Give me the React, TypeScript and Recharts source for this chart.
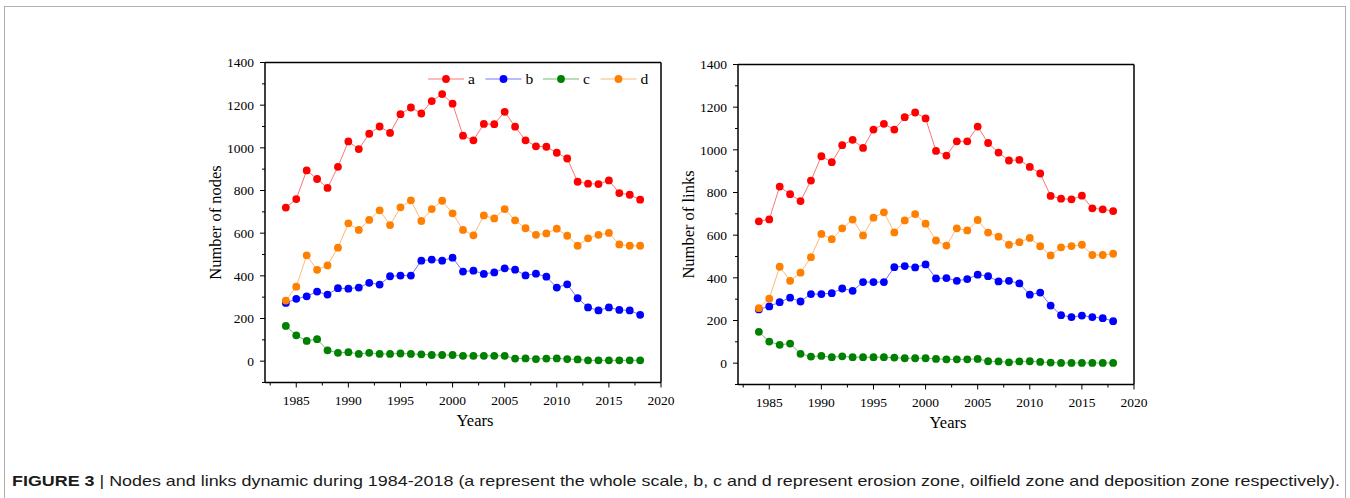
import React from 'react';
import { LineChart, Line, XAxis, YAxis, ReferenceLine, Legend, Label } from 'recharts';

// ---- data ----
const years = [1984, 1985, 1986, 1987, 1988, 1989, 1990, 1991, 1992, 1993, 1994, 1995, 1996, 1997, 1998, 1999, 2000, 2001, 2002, 2003, 2004, 2005, 2006, 2007, 2008, 2009, 2010, 2011, 2012, 2013, 2014, 2015, 2016, 2017, 2018];

const nodesA = [720, 760, 894, 854, 812, 911, 1030, 994, 1066, 1100, 1070, 1158, 1189, 1161, 1219, 1252, 1207, 1057, 1035, 1112, 1111, 1169, 1099, 1035, 1007, 1005, 977, 950, 841, 832, 830, 847, 788, 780, 757];
const nodesB = [273, 292, 304, 326, 312, 342, 340, 345, 367, 359, 398, 401, 401, 471, 476, 471, 485, 420, 424, 409, 416, 435, 429, 402, 410, 396, 345, 360, 295, 252, 238, 252, 240, 238, 217];
const nodesC = [165, 121, 95, 103, 51, 39, 42, 34, 39, 34, 34, 36, 34, 32, 29, 29, 29, 25, 25, 25, 25, 25, 12, 13, 10, 12, 13, 10, 8, 4, 4, 4, 4, 4, 4];
const nodesD = [284, 349, 496, 428, 449, 532, 646, 615, 662, 707, 638, 721, 754, 657, 713, 752, 693, 615, 590, 683, 669, 713, 660, 623, 592, 599, 621, 588, 541, 576, 592, 601, 547, 541, 541];

const linksA = [665, 674, 828, 792, 760, 856, 970, 942, 1022, 1047, 1009, 1095, 1122, 1095, 1153, 1175, 1147, 995, 973, 1040, 1040, 1109, 1032, 987, 950, 953, 920, 889, 784, 771, 768, 785, 726, 721, 713];
const linksB = [252, 266, 286, 307, 289, 324, 324, 328, 350, 339, 380, 380, 380, 450, 455, 449, 463, 397, 399, 386, 394, 415, 408, 383, 386, 374, 321, 331, 270, 225, 216, 223, 216, 211, 197];
const linksC = [147, 101, 86, 92, 44, 31, 34, 28, 32, 28, 28, 28, 28, 26, 23, 23, 23, 20, 18, 18, 18, 20, 9, 8, 4, 8, 9, 6, 3, 1, 1, 1, 1, 1, 1];
const linksD = [258, 302, 452, 386, 424, 497, 606, 581, 632, 673, 599, 682, 707, 613, 669, 699, 654, 575, 551, 632, 622, 671, 612, 593, 555, 567, 587, 548, 505, 543, 549, 555, 507, 507, 513];

const seriesNames = ['a', 'b', 'c', 'd'];
const seriesColors = ['#ff0000', '#0000ff', '#008000', '#ff8000'];

const xTicks = [1982.5, 1985, 1987.5, 1990, 1992.5, 1995, 1997.5, 2000, 2002.5, 2005, 2007.5, 2010, 2012.5, 2015, 2017.5, 2020];
const yTicks = [-100, 0, 100, 200, 300, 400, 500, 600, 700, 800, 900, 1000, 1100, 1200, 1300, 1400];
const xDomain = [1982, 2020];
const yDomain = [-100, 1400];

const captionBold = 'FIGURE 3';
const captionText = ' | Nodes and links dynamic during 1984-2018 (a represent the whole scale, b, c and d represent erosion zone, oilfield zone and deposition zone respectively).';

const nodesData = years.map((y, i) => ({ year: y, a: nodesA[i], b: nodesB[i], c: nodesC[i], d: nodesD[i] }));
const linksData = years.map((y, i) => ({ year: y, a: linksA[i], b: linksB[i], c: linksC[i], d: linksD[i] }));

const SERIF = '"Liberation Serif", "Times New Roman", serif';

const XTick = (props: any) => {
  const { x, y, payload } = props;
  const major = payload.value % 5 === 0;
  return (
    <g>
      <line x1={x} x2={x} y1={y} y2={y + (major ? 5 : 3)} stroke="#000" strokeWidth={1} />
      {major && (
        <text x={x} y={y + 22} textAnchor="middle" fontFamily={SERIF} fontSize={13.5} fill="#000">
          {payload.value}
        </text>
      )}
    </g>
  );
};

const YTick = (props: any) => {
  const { x, y, payload } = props;
  const major = payload.value % 200 === 0;
  return (
    <g>
      <line x1={x} x2={x - (major ? 5 : 3)} y1={y} y2={y} stroke="#000" strokeWidth={1} />
      {major && (
        <text x={x - 11} y={y} dy="0.35em" textAnchor="end" fontFamily={SERIF} fontSize={13.5} fill="#000">
          {payload.value}
        </text>
      )}
    </g>
  );
};

const YTitle = (props: any) => {
  const { viewBox, text } = props;
  const cx = viewBox.x + viewBox.width - 50;
  const cy = viewBox.y + viewBox.height / 2;
  return (
    <text x={cx} y={cy} transform={`rotate(-90 ${cx} ${cy})`} textAnchor="middle" dy="0.35em" fontFamily={SERIF} fontSize={16.5} fill="#000">
      {text}
    </text>
  );
};

const XTitle = (props: any) => {
  const { viewBox, text } = props;
  const cx = viewBox.x + viewBox.width / 2 + 12;
  const cy = viewBox.y + 37.5;
  return (
    <text x={cx} y={cy} textAnchor="middle" dy="0.35em" fontFamily={SERIF} fontSize={16.5} fill="#000">
      {text}
    </text>
  );
};

const LegendContent = (props: any) => {
  const payload = props.payload || [];
  return (
    <svg width={232} height={16} style={{ display: 'block', overflow: 'visible' }}>
      {payload.map((e: any, i: number) => {
        const x0 = i * 57.5;
        return (
          <g key={i}>
            <line x1={x0} x2={x0 + 36} y1={8} y2={8} stroke={e.color} strokeOpacity={0.55} strokeWidth={1} />
            <circle cx={x0 + 18} cy={8} r={3.9} fill={e.color} />
            <text x={x0 + 40} y={8} dy="0.35em" fontFamily={SERIF} fontSize={15.5} fill="#000">
              {e.value}
            </text>
          </g>
        );
      })}
    </svg>
  );
};

const Panel = ({ data, title, showLegend }: { data: any[]; title: string; showLegend: boolean }) => (
  <LineChart width={490} height={400} data={data} margin={{ top: 22.5, left: 25, right: 19, bottom: 27.5 }}>
    <XAxis
      dataKey="year"
      type="number"
      domain={xDomain}
      ticks={xTicks}
      interval={0}
      tick={<XTick />}
      tickLine={false}
      tickSize={0}
      tickMargin={0}
      height={30}
      axisLine={{ stroke: '#000', strokeWidth: 1.5 }}
      allowDecimals
    >
      <Label content={<XTitle text="Years" />} />
    </XAxis>
    <YAxis
      type="number"
      domain={yDomain}
      ticks={yTicks}
      interval={0}
      tick={<YTick />}
      tickLine={false}
      tickSize={0}
      tickMargin={0}
      width={50}
      axisLine={{ stroke: '#000', strokeWidth: 1.5 }}
    >
      <Label content={<YTitle text={title} />} />
    </YAxis>
    <ReferenceLine y={1400} stroke="#000" strokeWidth={1.5} />
    <ReferenceLine x={2020} stroke="#000" strokeWidth={1.5} />
    {seriesNames.map((k, i) => (
      <Line
        key={k}
        dataKey={k}
        name={k}
        type="linear"
        stroke={seriesColors[i]}
        strokeOpacity={0.55}
        strokeWidth={1}
        dot={{ r: 3.9, fill: seriesColors[i], stroke: 'none', strokeOpacity: 0, fillOpacity: 1 }}
        activeDot={false}
        isAnimationActive={false}
        legendType="circle"
      />
    ))}
    {showLegend && (
      <Legend
        verticalAlign="middle"
        layout="horizontal"
        content={<LegendContent />}
        wrapperStyle={{ position: 'absolute', left: 238, top: 31, width: 240, height: 16 }}
      />
    )}
  </LineChart>
);

export default function App() {
  return (
    <div style={{ position: 'absolute', left: 0, top: 0, width: 1350, height: 498, background: '#fff', overflow: 'hidden' }}>
      <div style={{ position: 'absolute', left: 4, top: 6, width: 1340, height: 520, border: '1px solid #b0b0b0' }} />
      <div style={{ position: 'absolute', left: 190, top: 40.2 }}>
        <Panel data={nodesData} title="Number of nodes" showLegend={true} />
      </div>
      <div style={{ position: 'absolute', left: 663.3, top: 41.8 }}>
        <Panel data={linksData} title="Number of links" showLegend={false} />
      </div>
      <svg style={{ position: 'absolute', left: 0, top: 465 }} width={1350} height={30}>
        <text
          x={12}
          y={20.5}
          textLength={1328}
          lengthAdjust="spacingAndGlyphs"
          fontFamily='"Liberation Sans Narrow", "Liberation Sans", Arial, sans-serif'
          fontSize={15}
          fill="#1a1a1a"
        >
          <tspan fontWeight="bold">{captionBold}</tspan>
          <tspan>{captionText}</tspan>
        </text>
      </svg>
    </div>
  );
}
